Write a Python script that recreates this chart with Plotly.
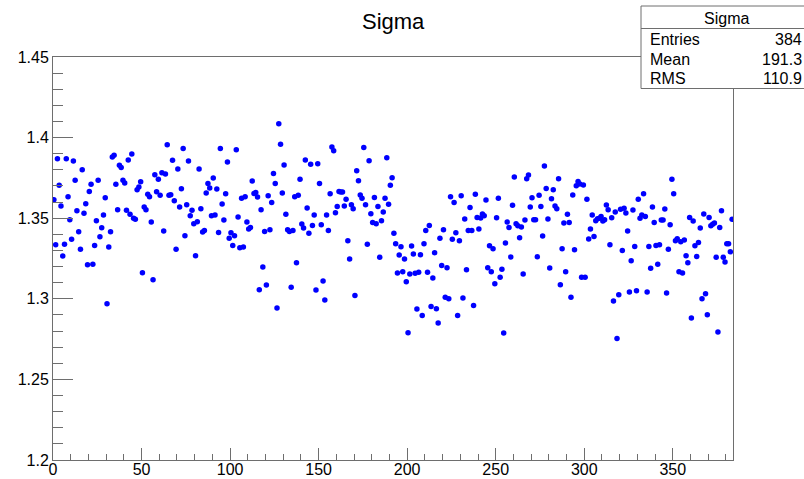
import plotly.graph_objects as go

# ---- data (one value per bin, bins 0..383) ----
n_bins = 384
sigma = [
    # 0-65
    1.3615, 1.3336, 1.3869, 1.3704, 1.3575, 1.3265, 1.3338, 1.3869, 1.3633, 1.3491,
    1.3369, 1.3855, 1.3735, 1.3546, 1.3416, 1.3307, 1.3801, 1.3530, 1.3590, 1.3211,
    1.3666, 1.3710, 1.3214, 1.3331, 1.3484, 1.3735, 1.3385, 1.3441, 1.3520, 1.3627,
    1.2970, 1.3321, 1.3416, 1.3879, 1.3890, 1.3710, 1.3553, 1.3828, 1.3815, 1.3735,
    1.3718, 1.3549, 1.3861, 1.3524, 1.3898, 1.3499, 1.3493, 1.3677, 1.3693, 1.3726,
    1.3162, 1.3569, 1.3553, 1.3648, 1.3633, 1.3476, 1.3118, 1.3770, 1.3664, 1.3741,
    1.3642, 1.3782, 1.3420, 1.3774, 1.3956, 1.3642,
    # 66-133
    1.3646, 1.3859, 1.3608, 1.3307, 1.3805, 1.3569, 1.3683, 1.3933, 1.3391, 1.3584,
    1.3855, 1.3515, 1.3549, 1.3466, 1.3267, 1.3478, 1.3805, 1.3559, 1.3414, 1.3424,
    1.3656, 1.3716, 1.3687, 1.3515, 1.3749, 1.3520, 1.3681, 1.3412, 1.3933, 1.3588,
    1.3489, 1.3652, 1.3848, 1.3375, 1.3410, 1.3331, 1.3391, 1.3925, 1.3507, 1.3317,
    1.3623, 1.3321, 1.3633, 1.3476, 1.3433, 1.3443, 1.3731, 1.3654, 1.3660, 1.3631,
    1.3056, 1.3553, 1.3197, 1.3418, 1.3085, 1.3640, 1.3429, 1.3598, 1.3778, 1.3716,
    1.2943, 1.4086, 1.3958, 1.3656, 1.3830, 1.3524, 1.3429, 1.3418,
    # 134-201
    1.3071, 1.3424, 1.3633, 1.3224, 1.3642, 1.3741, 1.3464, 1.3439, 1.3861, 1.3563,
    1.3406, 1.3834, 1.3455, 1.3520, 1.3054, 1.3838, 1.3716, 1.3460, 1.3110, 1.2992,
    1.3520, 1.3424, 1.3652, 1.3941, 1.3919, 1.3534, 1.3573, 1.3666, 1.3662, 1.3662,
    1.3575, 1.3617, 1.3360, 1.3247, 1.3584, 1.3559, 1.3021, 1.3795, 1.3733, 1.3644,
    1.3623, 1.3939, 1.3584, 1.3338, 1.3857, 1.3528, 1.3474, 1.3629, 1.3466, 1.3573,
    1.3257, 1.3484, 1.3538, 1.3623, 1.3875, 1.3586, 1.3704, 1.3751, 1.3406, 1.3342,
    1.3160, 1.3271, 1.3323, 1.3168, 1.3247, 1.3106, 1.2790, 1.3154,
    # 202-269
    1.3327, 1.3278, 1.3158, 1.2936, 1.3164, 1.3273, 1.2897, 1.3342, 1.3424, 1.3164,
    1.3455, 1.2953, 1.3129, 1.3286, 1.2938, 1.2850, 1.3375, 1.3207, 1.3429, 1.3009,
    1.3193, 1.3001, 1.3633, 1.3369, 1.3598, 1.3410, 1.2897, 1.3360, 1.3640, 1.3005,
    1.3495, 1.3180, 1.3424, 1.3567, 1.3424, 1.2959, 1.3648, 1.3505, 1.3433, 1.3501,
    1.3526, 1.3515, 1.3613, 1.3193, 1.3329, 1.3168, 1.3311, 1.3094, 1.3503, 1.3623,
    1.3133, 1.3183, 1.2788, 1.3346, 1.3476, 1.3443, 1.3259, 1.3580, 1.3755, 1.3466,
    1.3453, 1.3379, 1.3445, 1.3154, 1.3489, 1.3745, 1.3768, 1.3569,
    # 270-336
    1.3627, 1.3491, 1.3491, 1.3261, 1.3642, 1.3573, 1.3389, 1.3824, 1.3685, 1.3495,
    1.3191, 1.3621, 1.3677, 1.3575, 1.3559, 1.3745, 1.3087, 1.3311, 1.3470, 1.3168,
    1.3524, 1.3474, 1.3009, 1.3644, 1.3305, 1.3702, 1.3728, 1.3712, 1.3133, 1.3706,
    1.3133, 1.3617, 1.3371, 1.3433, 1.3520, 1.3387, 1.3484, 1.3497, 1.3499, 1.3511,
    1.3482, 1.3491, 1.3582, 1.3553, 1.3336, 1.3503, 1.2986, 1.3538, 1.2754, 1.3025,
    1.3555, 1.3300, 1.3561, 1.3532, 1.3420, 1.3042, 1.3236, 1.3551, 1.3325, 1.3050,
    1.3617, 1.3499, 1.3520, 1.3652, 1.3511, 1.3042, 1.3325,
    # 337-383
    1.3189, 1.3569, 1.3474, 1.3331, 1.3214, 1.3336, 1.3489, 1.3489, 1.3557, 1.3036,
    1.3307, 1.3460, 1.3741, 1.3652, 1.3360, 1.3373, 1.3168, 1.3354, 1.3160, 1.3364,
    1.3267, 1.3224, 1.3505, 1.2881, 1.3482, 1.3329, 1.3263, 1.3350, 1.3439, 1.3001,
    1.3526, 1.3032, 1.2901, 1.3505, 1.3453, 1.3462, 1.3470, 1.3257, 1.2794, 1.3443,
    1.3546, 1.3257, 1.3228, 1.3342, 1.3342, 1.3292, 1.3493,
]
bin_centers = [i + 0.5 for i in range(n_bins)]

title_text = "Sigma"
stats_labels = ["Entries", "Mean", "RMS"]
stats_values = ["384", "191.3", "110.9"]

# ---- layout geometry (pixels) ----
W, H = 804, 479
L, R, T, B = 53, 71, 57, 19
PW, PH = W - L - R, H - T - B
FONT = "Liberation Sans, Arial, Helvetica, sans-serif"
LINE = "#6e6e6e"


def px(x):
    return (x - L) / PW


def py(y):
    return (H - B - y) / PH


fig = go.Figure()
fig.add_trace(go.Scatter(
    x=bin_centers, y=sigma, mode="markers",
    marker=dict(color="#0000ff", size=5.5, line=dict(width=0)),
    hoverinfo="x+y", showlegend=False,
))

fig.update_layout(
    width=W, height=H,
    margin=dict(l=L, r=R, t=T, b=B, pad=0, autoexpand=False),
    paper_bgcolor="white", plot_bgcolor="white",
    font=dict(family=FONT, size=16, color="black"),
    showlegend=False,
)

fig.update_xaxes(
    range=[0, 384], showgrid=False, zeroline=False, automargin=False,
    showline=True, linecolor=LINE, linewidth=1, mirror=True,
    ticks="inside", ticklen=12, tickwidth=1, tickcolor=LINE,
    tick0=0, dtick=50, ticklabelstandoff=-5,
    minor=dict(ticks="inside", ticklen=6, tickcolor=LINE, dtick=10, showgrid=False),
    tickfont=dict(family=FONT, size=16, color="black"),
)
fig.update_yaxes(
    range=[1.2, 1.45], showgrid=False, zeroline=False, automargin=False,
    showline=True, linecolor=LINE, linewidth=1, mirror=True,
    ticks="inside", ticklen=20, tickwidth=1, tickcolor=LINE,
    tick0=1.2, dtick=0.05, tickformat="~g",
    minor=dict(ticks="inside", ticklen=10, tickcolor=LINE, dtick=0.01, showgrid=False),
    tickfont=dict(family=FONT, size=16, color="black"),
)

# title
fig.add_annotation(
    text=title_text, xref="paper", yref="paper",
    x=px(393), y=py(22), xanchor="center", yanchor="middle",
    showarrow=False, font=dict(family=FONT, size=22, color="black"),
)

# stats box
box_l, box_r, box_t, box_b = 641, 806, 6, 88.5
sep_y = 28.5
fig.add_shape(type="rect", xref="paper", yref="paper",
              x0=px(box_l), x1=px(box_r), y0=py(box_b), y1=py(box_t),
              fillcolor="white", line=dict(color=LINE, width=1), layer="above")
fig.add_shape(type="line", xref="paper", yref="paper",
              x0=px(box_l), x1=px(box_r), y0=py(sep_y), y1=py(sep_y),
              line=dict(color=LINE, width=1), layer="above")
fig.add_annotation(text=title_text, xref="paper", yref="paper",
                   x=px(726), y=py(18), xanchor="center", yanchor="middle",
                   showarrow=False, font=dict(family=FONT, size=16, color="black"))
row_y = [39, 59, 79]
for lab, val, yy in zip(stats_labels, stats_values, row_y):
    fig.add_annotation(text=lab, xref="paper", yref="paper",
                       x=px(648), y=py(yy), xanchor="left", yanchor="middle",
                       showarrow=False, font=dict(family=FONT, size=16, color="black"))
    fig.add_annotation(text=val, xref="paper", yref="paper",
                       x=px(804), y=py(yy), xanchor="right", yanchor="middle",
                       showarrow=False, font=dict(family=FONT, size=16, color="black"))

fig.write_html("out.html")
